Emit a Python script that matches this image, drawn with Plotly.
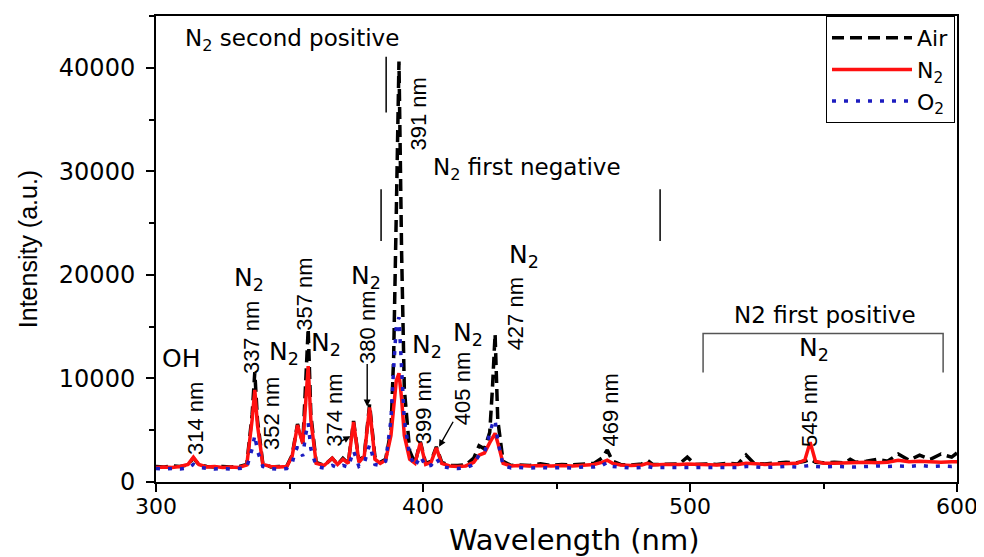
import plotly.graph_objects as go

# ---------------- data ----------------
wavelength = [300, 303, 306, 309, 312, 314, 316, 319, 322, 325,
              328, 331, 334, 336, 337, 338, 340, 343, 346, 349,
              351, 352, 353, 355, 356, 357, 358, 360, 363, 366,
              368, 370, 372, 374, 376, 378, 380, 382, 384, 386,
              388, 389, 390, 391, 392, 393, 395, 397, 399, 401,
              403, 405, 407, 410, 413, 416, 419, 421, 423, 425,
              426, 427, 428, 430, 433, 436, 440, 444, 448, 452,
              456, 460, 464, 467, 469, 471, 474, 478, 482, 484,
              486, 490, 494, 496, 499, 502, 506, 510, 514, 518,
              521, 524, 528, 532, 536, 540, 543, 545, 547, 550,
              554, 558, 560, 562, 566, 570, 574, 578, 582, 586,
              590, 594, 598, 600]

air = [1500, 1450, 1550, 1500, 1650, 2300, 1700, 1500, 1450, 1500,
       1450, 1500, 1700, 6500, 10600, 6000, 1800, 1450, 1500, 1550,
       2600, 4200, 5600, 3800, 9000, 14800, 6500, 1900, 1600, 2300,
       1700, 2300, 1800, 5900, 2000, 2600, 7500, 2400, 1900, 2200,
       5000, 12000, 26000, 40600, 22000, 9000, 3000, 1800, 3900, 1800,
       2000, 3400, 1900, 1600, 1600, 1650, 2300, 3500, 3200, 4800,
       9000, 14300, 6000, 2000, 1600, 1650, 1600, 1750, 1600, 1700,
       1650, 1750, 1800, 2300, 3100, 2000, 1700, 1650, 1750, 2100,
       1700, 1700, 1750, 1750, 2400, 1700, 1750, 1700, 1800, 1750,
       2600, 1800, 1750, 1800, 1900, 1850, 2000, 2200, 1900, 1850,
       1900, 1850, 2200, 1900, 2000, 2200, 2000, 2700, 2100, 2600,
       2200, 2700, 2400, 2800]

n2 = [1400, 1450, 1400, 1500, 1700, 2400, 1700, 1450, 1500, 1400,
      1450, 1400, 1650, 6000, 8900, 5500, 1700, 1500, 1450, 1500,
      2500, 4200, 5500, 3700, 8000, 11200, 6000, 1800, 1600, 2300,
      1700, 2200, 1800, 5800, 1900, 2500, 7200, 2200, 1800, 2100,
      4500, 7500, 9800, 10500, 8000, 4500, 2200, 1800, 3800, 1700,
      1900, 3300, 1800, 1550, 1500, 1550, 1900, 2600, 2800, 3800,
      4300, 4700, 3800, 1800, 1550, 1600, 1550, 1600, 1550, 1600,
      1550, 1650, 1700, 1900, 2100, 1800, 1650, 1600, 1650, 1800,
      1650, 1700, 1650, 1700, 1750, 1700, 1700, 1650, 1700, 1700,
      1800, 1750, 1700, 1750, 1800, 1800, 2100, 3850, 2000, 1800,
      1800, 1850, 1900, 1850, 1900, 1850, 1900, 2100, 1950, 2000,
      1950, 1900, 1950, 1950]

o2 = [1300, 1250, 1300, 1250, 1350, 1700, 1400, 1300, 1250, 1300,
      1250, 1300, 1400, 3200, 4500, 3000, 1500, 1300, 1250, 1300,
      1800, 2800, 3400, 2500, 4500, 5700, 3200, 1500, 1350, 1600,
      1400, 1600, 1450, 3000, 1500, 1800, 3600, 1700, 1600, 2000,
      6000, 11000, 15000, 15900, 11000, 6000, 2600, 1500, 2500, 1500,
      1600, 2300, 1500, 1350, 1300, 1350, 1700, 2600, 2800, 4500,
      5600, 6000, 4000, 1600, 1350, 1400, 1350, 1400, 1350, 1400,
      1350, 1450, 1450, 1600, 1900, 1500, 1400, 1350, 1400, 1500,
      1400, 1400, 1400, 1450, 1450, 1400, 1450, 1400, 1450, 1400,
      1500, 1450, 1400, 1450, 1500, 1450, 1500, 1600, 1500, 1450,
      1500, 1450, 1500, 1450, 1500, 1550, 1500, 1550, 1500, 1600,
      1500, 1550, 1500, 1550]

series_names = ["Air", "N<sub>2</sub>", "O<sub>2</sub>"]
x_tick_values = [300, 400, 500, 600]
y_tick_values = [0, 10000, 20000, 30000, 40000]
y_tick_labels = ["0", "10000", "20000", "30000", "40000"]

# peak labels (rotated) and species labels
peak_labels = ["314 nm", "337 nm", "352 nm", "357 nm", "374 nm", "380 nm",
               "391 nm", "399 nm", "405 nm", "427 nm", "469 nm", "545 nm"]
species_labels = ["OH", "N<sub>2</sub>", "N<sub>2</sub>", "N<sub>2</sub>",
                  "N<sub>2</sub>", "N<sub>2</sub>", "N<sub>2</sub>",
                  "N<sub>2</sub>", "N<sub>2</sub>"]
band_labels = ["N<sub>2</sub> second positive", "N<sub>2</sub> first negative",
               "N2 first positive"]

# ---------------- layout helpers ----------------
peak_pos = [(314.9, 6150), (335.6, 13900), (343.3, 6630), (355.8, 18170),
            (366.8, 6920), (379.1, 14900), (398.5, 35580), (400.0, 7115),
            (414.9, 9040), (434.7, 16250), (470.1, 6920), (544.8, 6920)]
species_pos = [(309.5, 11920), (334.8, 19615), (347.8, 12500), (363.6, 13365),
               (378.5, 19810), (401.5, 13170), (416.8, 14330), (437.7, 21830),
               (546.3, 12880)]

BLUE = "#1c1cc0"

fig = go.Figure()
fig.add_trace(go.Scatter(x=wavelength, y=air, name=series_names[0], mode="lines",
                         line=dict(color="black", width=3.5, dash="12px,6px")))
fig.add_trace(go.Scatter(x=wavelength, y=n2, name=series_names[1], mode="lines",
                         line=dict(color="#ff1010", width=3.5)))
fig.add_trace(go.Scatter(x=wavelength, y=o2, name=series_names[2], mode="lines",
                         line=dict(color=BLUE, width=3.5, dash="4px,8px")))

annotations = []
for txt, (x, y) in zip(peak_labels, peak_pos):
    annotations.append(dict(x=x, y=y, xref="x", yref="y", text=txt, textangle=-90,
                            showarrow=False,
                            font=dict(family="Liberation Sans", size=22, color="black")))
for txt, (x, y) in zip(species_labels, species_pos):
    annotations.append(dict(x=x, y=y, xref="x", yref="y", text=txt, showarrow=False,
                            font=dict(family="DejaVu Sans", size=25, color="black")))
# band labels
annotations.append(dict(x=310.0, y=42690, xref="x", yref="y", text=band_labels[0],
                        xanchor="left", showarrow=False,
                        font=dict(family="DejaVu Sans", size=23, color="black")))
annotations.append(dict(x=403.0, y=30190, xref="x", yref="y", text=band_labels[1],
                        xanchor="left", showarrow=False,
                        font=dict(family="DejaVu Sans", size=23, color="black")))
annotations.append(dict(x=550.7, y=16150, xref="x", yref="y", text=band_labels[2],
                        showarrow=False,
                        font=dict(family="DejaVu Sans", size=23, color="black")))
# x-axis title placed to match the reference
annotations.append(dict(x=0.522, y=-0.124, xref="paper", yref="paper",
                        text="Wavelength (nm)", showarrow=False, yanchor="middle",
                        font=dict(family="DejaVu Sans", size=29, color="black")))
# arrows
for (tx, ty, hx, hy) in [(379.1, 11540, 379.1, 7300), (368.7, 3850, 372.8, 4420),
                         (411.6, 5960, 406.0, 3400)]:
    annotations.append(dict(x=hx, y=hy, ax=tx, ay=ty, xref="x", yref="y",
                            axref="x", ayref="y", text="", showarrow=True,
                            arrowhead=2, arrowsize=1, arrowwidth=1.4,
                            arrowcolor="black"))

shapes = [
    dict(type="line", xref="x", yref="y", x0=386.2, x1=386.2, y0=35670, y1=41056,
         line=dict(color="black", width=1.5)),
    dict(type="line", xref="x", yref="y", x0=384.3, x1=384.3, y0=23270, y1=28270,
         line=dict(color="black", width=1.5)),
    dict(type="line", xref="x", yref="y", x0=488.8, x1=488.8, y0=23270, y1=28270,
         line=dict(color="black", width=1.5)),
    dict(type="path", xref="x", yref="y",
         path="M 504.9 10580 L 504.9 14330 L 594.8 14330 L 594.8 10580",
         line=dict(color="#555555", width=1.5)),
]

axis_common = dict(showline=True, linecolor="black", linewidth=2, mirror=True,
                   ticks="outside", ticklen=8, tickwidth=1.5, tickcolor="black",
                   showgrid=False, zeroline=False)

# the page body has an 8px default margin, so the figure is sized to fit inside
fig.update_layout(
    width=976, height=549,
    margin=dict(l=148, r=24, t=6, b=75),
    paper_bgcolor="white", plot_bgcolor="white",
    xaxis=dict(range=[300, 600], tickvals=x_tick_values,
               ticklabelstandoff=-4,
               tickfont=dict(family="DejaVu Sans", size=22, color="black"),
               minor=dict(dtick=50, tick0=300, ticks="outside", ticklen=5,
                          tickwidth=1.5, tickcolor="black"),
               **axis_common),
    yaxis=dict(range=[0, 45000], tickvals=y_tick_values, ticktext=y_tick_labels,
               ticklabelstandoff=6,
               tickfont=dict(family="DejaVu Sans", size=24, color="black"),
               minor=dict(dtick=5000, tick0=0, ticks="outside", ticklen=5,
                          tickwidth=1.5, tickcolor="black"),
               title=dict(text="Intensity (a.u.)", standoff=14,
                          font=dict(family="Liberation Sans", size=25, color="black")),
               **axis_common),
    legend=dict(x=0.9975, y=1.0, xanchor="right", yanchor="top",
                bgcolor="white", bordercolor="black", borderwidth=1,
                itemwidth=80, tracegroupgap=0,
                font=dict(family="DejaVu Sans", size=22, color="black")),
    annotations=annotations,
    shapes=shapes,
    showlegend=True,
)

fig.write_html("out.html")
